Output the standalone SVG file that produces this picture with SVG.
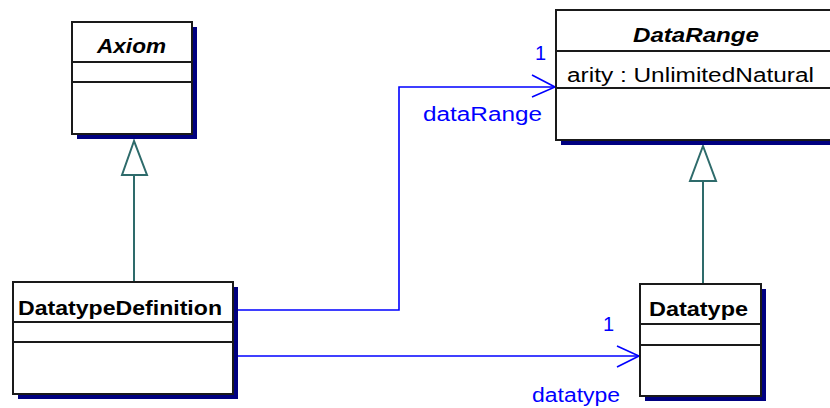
<svg xmlns="http://www.w3.org/2000/svg" width="830" height="408" viewBox="0 0 830 408">
<style>
.shadow{fill:#000080;stroke:none}
.box{fill:#fff;stroke:#1a1a1a;stroke-width:2}
.div{stroke:#1a1a1a;stroke-width:2}
.title{font-family:"Liberation Sans",Arial,sans-serif;font-size:20px;font-weight:bold;fill:#000}
.abs{font-style:italic}
.attr{font-family:"Liberation Sans",Arial,sans-serif;font-size:20px;fill:#000}
.lbl{font-family:"Liberation Sans",Arial,sans-serif;font-size:20px;fill:#0000ff}
.assoc{fill:none;stroke:#0000ff;stroke-width:1.6}
.gen{fill:none;stroke:#2e6b6b;stroke-width:2}
.tri{fill:#fff;stroke:#2e6b6b;stroke-width:2}
</style>
<rect width="830" height="408" fill="#fff"/>
<g id="connectors">
<polyline class="assoc" points="236,310 399,310 399,87 555,87"/>
<polyline class="assoc" points="532,75 555,87 532,97"/>
<line class="assoc" x1="238" y1="356" x2="639" y2="356"/>
<polyline class="assoc" points="617,346 639,356 617,367"/>
<line class="gen" x1="134" y1="175" x2="134" y2="282"/>
<polygon class="tri" points="134,141 122,175 147,175"/>
<line class="gen" x1="703" y1="181" x2="703" y2="284"/>
<polygon class="tri" points="703,146 690,181 716,181"/>
<text class="lbl" x="535" y="60" font-size="21">1</text>
<text class="lbl" x="423" y="121" textLength="119" lengthAdjust="spacingAndGlyphs">dataRange</text>
<text class="lbl" x="603" y="331" font-size="21">1</text>
<text class="lbl" x="532" y="402" textLength="88" lengthAdjust="spacingAndGlyphs">datatype</text>
</g>
<g id="Axiom">
<rect class="shadow" x="77" y="27" width="120" height="112"/>
<rect class="box" x="72" y="22" width="120" height="112"/>
<line class="div" x1="72" y1="62" x2="192" y2="62"/>
<line class="div" x1="72" y1="82" x2="192" y2="82"/>
<text class="title abs" x="97" y="53" textLength="69" lengthAdjust="spacingAndGlyphs">Axiom</text>
</g>
<g id="DataRange">
<rect class="shadow" x="561" y="15" width="290" height="130"/>
<rect class="box" x="556" y="10" width="290" height="130"/>
<line class="div" x1="556" y1="51" x2="846" y2="51"/>
<line class="div" x1="556" y1="88" x2="846" y2="88"/>
<text class="title abs" x="633" y="42" textLength="126" lengthAdjust="spacingAndGlyphs">DataRange</text>
<text class="attr" x="567" y="82" textLength="247" lengthAdjust="spacingAndGlyphs">arity : UnlimitedNatural</text>
</g>
<g id="DatatypeDefinition">
<rect class="shadow" x="18" y="287" width="220" height="112"/>
<rect class="box" x="13" y="282" width="220" height="112"/>
<line class="div" x1="13" y1="322" x2="233" y2="322"/>
<line class="div" x1="13" y1="342" x2="233" y2="342"/>
<text class="title" x="18" y="315" textLength="204" lengthAdjust="spacingAndGlyphs">DatatypeDefinition</text>
</g>
<g id="Datatype">
<rect class="shadow" x="645" y="289" width="121" height="112"/>
<rect class="box" x="640" y="284" width="121" height="112"/>
<line class="div" x1="640" y1="324" x2="761" y2="324"/>
<line class="div" x1="640" y1="345" x2="761" y2="345"/>
<text class="title" x="649" y="316" textLength="99" lengthAdjust="spacingAndGlyphs">Datatype</text>
</g>
</svg>
